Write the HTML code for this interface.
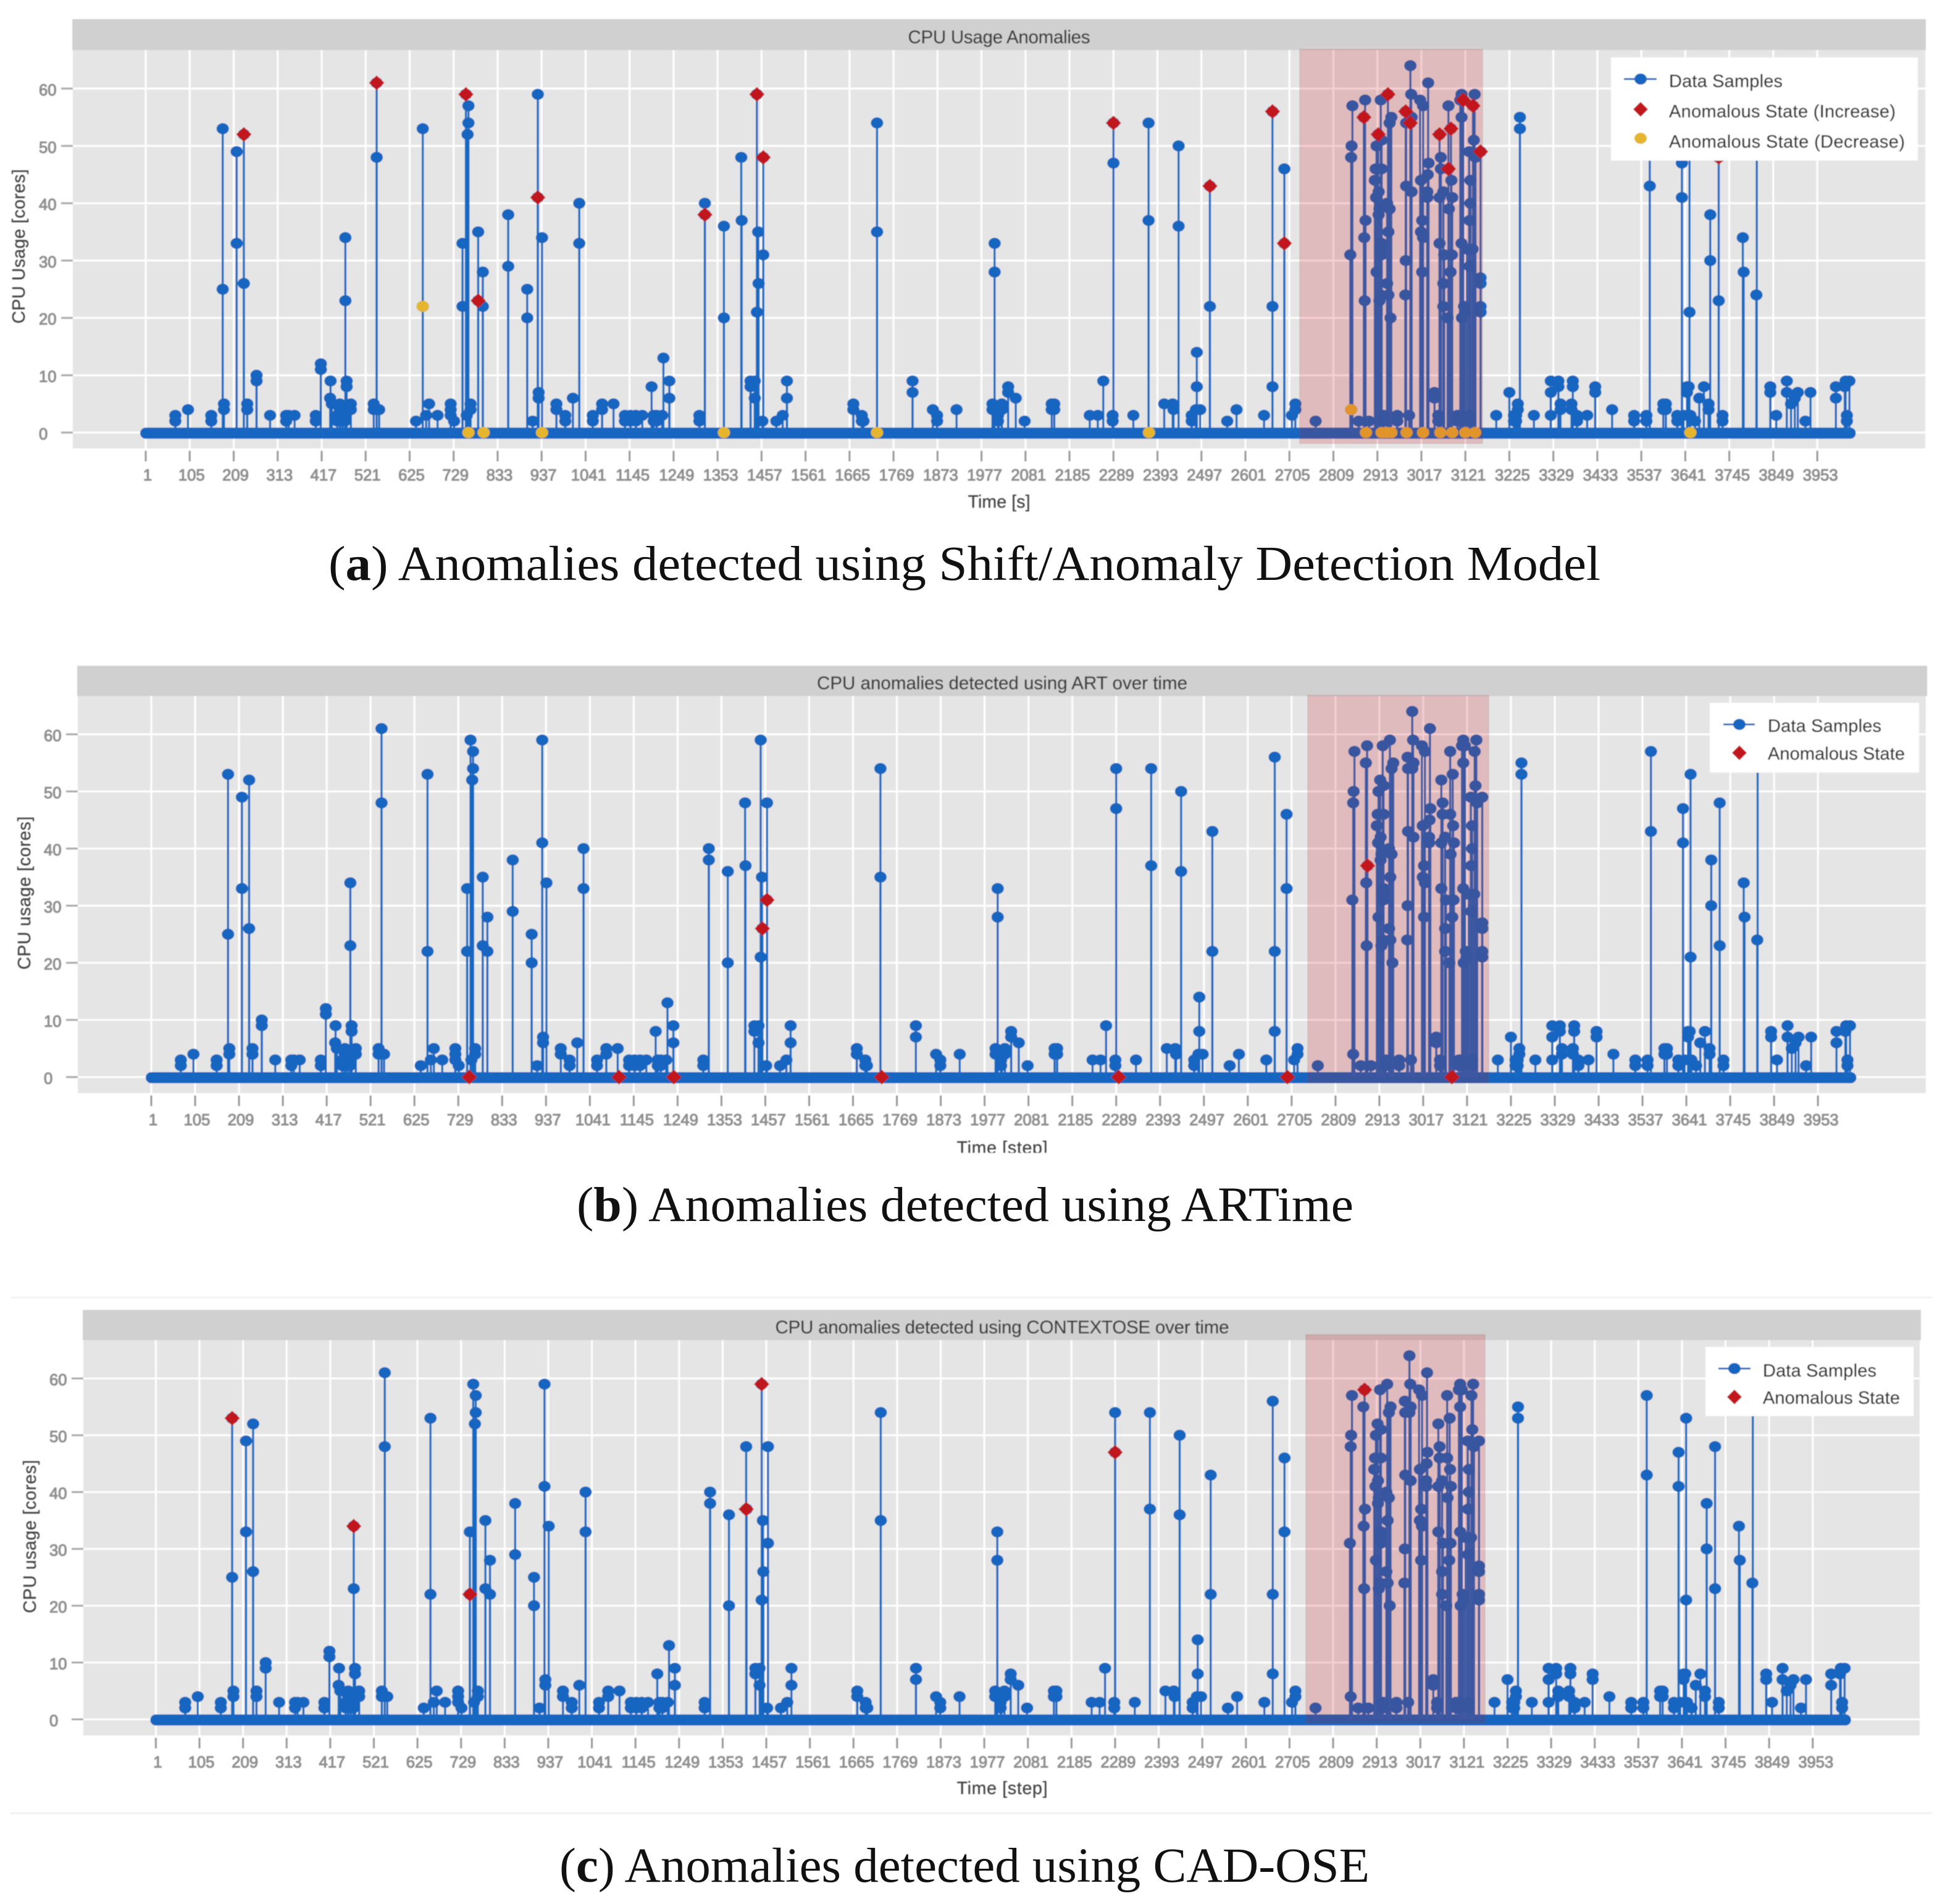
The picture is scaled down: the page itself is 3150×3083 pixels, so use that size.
<!DOCTYPE html>
<html lang="en">
<head>
<meta charset="utf-8">
<title>CPU usage anomalies</title>
<style>
html,body{margin:0;padding:0;background:#fff;width:3150px;height:3083px;overflow:hidden}
svg{display:block}
.sans{font-family:"Liberation Sans",sans-serif}
.serif{font-family:"Liberation Serif",serif}
.title{font-size:29.5px;fill:#3c3c3c;stroke:#3c3c3c;stroke-width:.35px;text-anchor:middle}
.axis-title{font-size:28.5px;fill:#444;stroke:#444;stroke-width:.3px;text-anchor:middle}
.tick-label{font-size:25.6px;fill:#8f8f8f;stroke:#8f8f8f;stroke-width:1.1px}
.legend-text{font-size:29px;fill:#2e2e2e;stroke:#2e2e2e;stroke-width:.3px}
.caption{font-size:79px;fill:#111}
</style>
</head>
<body>
<svg id="figure" xmlns="http://www.w3.org/2000/svg" width="3150" height="3083" viewBox="0 0 3150 3083">
  <defs>
    <filter id="soft" filterUnits="userSpaceOnUse" x="0" y="0" width="3150" height="3083"><feGaussianBlur stdDeviation="0.9"/></filter>
  </defs>
  <rect width="3150" height="3083" fill="#fff"/>

  <g id="panel-a" filter="url(#soft)" class="sans">
    <rect x="117" y="31" width="3002" height="50" fill="#d0d0d0"/>
    <rect x="118" y="81" width="3000" height="645" fill="#e5e5e5"/>
    <g class="layer-grid"></g><g class="layer-ticks"></g><g class="layer-marks"></g>
    <rect x="2105" y="80" width="296" height="638" fill="rgb(205,20,30)" fill-opacity=".2" stroke="#7a4a4a" stroke-opacity=".25"/>
    <text class="title" x="1618" y="70" textLength="295">CPU Usage Anomalies</text>
    <text class="axis-title" x="1618" y="822" textLength="101">Time [s]</text>
    <text class="axis-title" transform="translate(40,399) rotate(-90)" textLength="250">CPU Usage [cores]</text>
    <g>
      <rect x="2609" y="93" width="497" height="167" fill="#fff"/>
      <line x1="2630" x2="2683" y1="128" y2="128" stroke="#1b6bc2" stroke-width="3"/>
      <ellipse cx="2657" cy="128" rx="10" ry="9" fill="#1565c0"/>
      <polygon points="2657,165 2669,177 2657,189 2645,177" fill="#c0141a"/>
      <ellipse cx="2657" cy="224" rx="10" ry="9" fill="#e6b52e"/>
      <text class="legend-text" x="2703" y="141" textLength="184">Data Samples</text>
      <text class="legend-text" x="2703" y="190" textLength="367">Anomalous State (Increase)</text>
      <text class="legend-text" x="2703" y="239" textLength="382">Anomalous State (Decrease)</text>
    </g>
  </g>

  <g id="panel-b" filter="url(#soft)" class="sans">
    <rect x="125" y="1078" width="2996" height="49" fill="#d0d0d0"/>
    <rect x="126" y="1127" width="2993" height="643" fill="#e5e5e5"/>
    <g class="layer-grid"></g><g class="layer-ticks"></g><g class="layer-marks"></g>
    <rect x="2118" y="1126" width="293" height="627" fill="rgb(205,20,30)" fill-opacity=".2" stroke="#7a4a4a" stroke-opacity=".25"/>
    <text class="title" x="1623" y="1116" textLength="600">CPU anomalies detected using ART over time</text>
    <text class="axis-title" x="1623" y="1868" textLength="147">Time [step]</text>
    <text class="axis-title" transform="translate(49,1446) rotate(-90)" textLength="248">CPU usage [cores]</text>
    <g>
      <rect x="2769" y="1138" width="339" height="113" fill="#fff"/>
      <line x1="2791" x2="2842" y1="1173" y2="1173" stroke="#1b6bc2" stroke-width="3"/>
      <ellipse cx="2817" cy="1173" rx="10" ry="9" fill="#1565c0"/>
      <polygon points="2817,1207 2829,1219 2817,1231 2805,1219" fill="#c0141a"/>
      <text class="legend-text" x="2863" y="1185" textLength="184">Data Samples</text>
      <text class="legend-text" x="2863" y="1230" textLength="222">Anomalous State</text>
    </g>
    <rect x="1500" y="1867" width="300" height="12" fill="#fff"/>
  </g>

  <g id="panel-c" filter="url(#soft)" class="sans">
    <rect x="134" y="2121" width="2977" height="49" fill="#d0d0d0"/>
    <rect x="135" y="2170" width="2974" height="640" fill="#e5e5e5"/>
    <g class="layer-grid"></g><g class="layer-ticks"></g><g class="layer-marks"></g>
    <rect x="2115" y="2161" width="290" height="629" fill="rgb(205,20,30)" fill-opacity=".2" stroke="#7a4a4a" stroke-opacity=".25"/>
    <text class="title" x="1623" y="2159" textLength="735">CPU anomalies detected using CONTEXTOSE over time</text>
    <text class="axis-title" x="1623" y="2905" textLength="147">Time [step]</text>
    <text class="axis-title" transform="translate(58,2488) rotate(-90)" textLength="248">CPU usage [cores]</text>
    <g>
      <rect x="2762" y="2181" width="337" height="112" fill="#fff"/>
      <line x1="2783" x2="2835" y1="2216" y2="2216" stroke="#1b6bc2" stroke-width="3"/>
      <ellipse cx="2809" cy="2216" rx="10" ry="9" fill="#1565c0"/>
      <polygon points="2809,2250 2821,2262 2809,2274 2797,2262" fill="#c0141a"/>
      <text class="legend-text" x="2855" y="2229" textLength="184">Data Samples</text>
      <text class="legend-text" x="2855" y="2273" textLength="222">Anomalous State</text>
    </g>
  </g>

  <line x1="17" x2="3129" y1="2101" y2="2101" stroke="#f4f4f4" stroke-width="3"/>
  <line x1="17" x2="3129" y1="2936" y2="2936" stroke="#f2f2f2" stroke-width="3"/>

  <text class="serif caption" x="532" y="939" textLength="2060" lengthAdjust="spacingAndGlyphs">(<tspan font-weight="bold">a</tspan>) Anomalies detected using Shift/Anomaly Detection Model</text>
  <text class="serif caption" x="934" y="1977" textLength="1258" lengthAdjust="spacingAndGlyphs">(<tspan font-weight="bold">b</tspan>) Anomalies detected using ARTime</text>
  <text class="serif caption" x="906" y="3047" textLength="1312" lengthAdjust="spacingAndGlyphs">(<tspan font-weight="bold">c</tspan>) Anomalies detected using CAD-OSE</text>
</svg>

<script>
const xTickLabels = [1,105,209,313,417,521,625,729,833,937,1041,1145,1249,1353,1457,1561,1665,1769,1873,1977,2081,2185,2289,2393,2497,2601,2705,2809,2913,3017,3121,3225,3329,3433,3537,3641,3745,3849,3953];
const yTickLabels = [0,10,20,30,40,50,60];
const firstStep = 1;
const lastStep = 4031;

const sampleSteps = [
71,71,101,156,156,183,183,186,186,216,216,233,233,241,241,263,263,295,333,333,339,353,403,403,415,415,437,438,441,
454,454,460,460,466,466,466,472,472,473,473,476,476,486,486,540,540,547,547,553,640,656,656,664,671,691,722,722,722,730,
750,750,758,760,762,764,764,769,769,787,787,798,798,858,858,903,903,916,928,928,930,930,938,972,972,993,993,1011,1026,1026,
1058,1058,1080,1080,1107,1134,1134,1147,1147,1160,1160,1175,1197,1202,1202,1209,1209,1222,1225,1239,1239,1310,1310,1323,1323,1368,1368,1409,1410,
1431,1431,1441,1441,1446,1446,1449,1450,1459,1461,1461,1492,1507,1517,1517,1674,1674,1694,1694,1698,1730,1730,1814,1814,1862,1872,1872,1918,
2003,2003,2008,2008,2016,2016,2018,2025,2025,2040,2040,2058,2079,2143,2143,2149,2149,2233,2252,2265,2287,2287,2289,2289,2336,2372,2372,2409,2429,2431,2443,2443,
2474,2474,2484,2486,2486,2494,2517,2517,2558,2580,2645,2665,2665,2665,2693,2693,2711,2719,2719,2767,
2849,2851,2851,2852,2854,2869,2881,2882,2883,2884,2885,2893,2907,2909,2910,2911,2911,2915,2916,2916,2918,2918,2921,2921,2921,2923,2923,2923,2923,2928,2928,
2936,2936,2938,2939,2939,2942,2942,2944,2946,2960,2960,2979,2980,2980,2981,2981,2988,2991,2991,2993,2994,2994,
3014,3016,3016,3019,3019,3021,3021,3031,3031,3032,3033,3034,3048,3048,3057,3057,3060,3060,3060,3063,3063,3069,3069,3069,3071,
3079,3081,3081,3082,3086,3087,3088,3089,3090,3102,3102,3108,3108,3109,3112,3112,3112,3113,3116,3118,3120,3125,3130,3131,3131,3133,3133,3133,3133,3138,3139,3141,3143,3145,3157,3157,3157,3157,3157,
3194,3225,3236,3236,3241,3241,3245,3245,3250,3250,3283,3323,3323,3323,3341,3341,3346,3346,3372,3372,3375,3375,3385,3385,3409,3428,3428,3468,3520,3520,3549,3549,3557,3557,3589,3589,3595,3595,
3622,3622,3633,3633,3637,3645,3645,3649,3651,3651,3653,3664,3674,3685,3696,3696,3700,3700,3720,3720,3729,3729,3777,3779,3809,3810,3842,3842,3856,3881,3881,3891,3900,3907,3925,3937,3997,3997,4018,4020,4023,4023,4029
];
const sampleValues = [
3,2,4,3,2,53,25,5,4,49,33,52,26,5,4,10,9,3,3,2,3,3,3,2,12,11,6,9,5,
3,2,5,4,4,3,2,3,2,34,23,9,8,5,4,5,4,61,48,4,2,53,22,3,5,3,5,4,3,2,
33,22,59,3,52,54,57,5,4,35,23,28,22,38,29,25,20,2,59,41,7,6,34,5,4,3,2,6,40,33,
3,2,5,4,5,3,2,3,2,3,2,3,8,3,2,3,2,3,13,9,6,3,2,40,38,36,20,48,37,
9,8,9,6,59,21,35,26,2,48,31,2,3,9,6,5,4,3,2,2,54,35,9,7,4,3,2,4,
5,4,33,28,3,2,4,5,4,8,7,6,2,5,4,5,4,3,3,9,3,2,54,47,3,54,37,5,5,4,50,36,
3,2,4,14,8,4,43,22,2,4,3,56,22,8,46,33,3,5,4,2,
31,48,4,50,57,2,55,34,23,58,37,2,44,46,41,50,28,52,42,38,39,23,58,32,24,51,46,33,31,3,2,
40,26,59,35,24,54,39,20,55,3,2,24,56,30,54,43,3,64,54,59,55,42,
58,44,35,37,28,57,34,42,41,45,61,47,7,6,3,2,52,41,33,48,46,42,26,22,31,
20,57,46,39,28,53,44,31,41,3,2,3,2,58,59,55,33,20,58,22,21,32,49,37,29,44,40,3,2,32,57,51,59,48,49,27,26,22,21,
3,7,3,2,3,2,5,4,55,53,3,9,7,3,9,8,5,4,5,4,9,8,3,2,3,8,7,4,3,2,3,2,57,43,5,4,5,4,
3,2,47,41,3,8,7,8,53,21,3,2,6,8,5,4,38,30,48,23,3,2,34,28,24,58,8,7,3,9,7,5,6,7,2,7,8,6,8,9,3,2,9
];

const increaseStepsA = [233,547,758,787,928,1323,1446,1461,2289,2517,2665,2693,2881,2915,2938,2980,2991,3060,3081,3087,3116,3139,3157,3720];
const increaseValuesA = [52,61,59,23,41,38,59,48,54,43,56,33,55,52,59,56,54,52,46,53,58,57,49,48];
const decreaseStepsA = [656,764,800,938,1368,1730,2373,2851,2886,2923,2935,2946,2982,3021,3062,3090,3121,3144,3653];
const decreaseValuesA = [22,0,0,0,0,0,0,4,0,0,0,0,0,0,0,0,0,0,0];

const anomalyStepsB = [755,1110,1240,1450,1461,1733,2295,2695,2885,3085];
const anomalyValuesB = [0,0,0,26,31,0,0,0,37,0];

const anomalyStepsC = [183,473,750,1409,1446,2289,2884];
const anomalyValuesC = [53,34,22,37,59,47,58];

const NS = 'http://www.w3.org/2000/svg';
function make(tag, attrs, parent) {
  const el = document.createElementNS(NS, tag);
  for (const k in attrs) el.setAttribute(k, attrs[k]);
  parent.appendChild(el);
  return el;
}

function drawPanel(cfg) {
  const root = document.getElementById(cfg.id);
  const gridLayer = root.querySelector('.layer-grid');
  const tickLayer = root.querySelector('.layer-ticks');
  const markLayer = root.querySelector('.layer-marks');
  const xScale = s => cfg.x1 + (s - 1) * cfg.k;
  const yScale = v => cfg.y0 - v * cfg.u;

  xTickLabels.forEach(label => {
    const x = xScale(label);
    const grid = make('line', {x1:x, x2:x, y1:cfg.top, y2:cfg.bottom, stroke:'#fff', 'stroke-width':3}, gridLayer);
    
    
    const tick = make('line', {x1:x, x2:x, y1:cfg.bottom + 4, y2:cfg.bottom + 21, stroke:'#999', 'stroke-width':3}, tickLayer);
    
    
    const offset = String(label).length > 3 ? 5 : 3;
    const text = make('text', {x:x + offset, y:cfg.bottom + 52, 'text-anchor':'middle', class:'tick-label'}, tickLayer);
    text.textContent = label;
    
    
  });

  yTickLabels.forEach(label => {
    const y = yScale(label);
    const grid = make('line', {x1:cfg.left, x2:cfg.right, y1:y, y2:y, stroke:'#fff', 'stroke-width':3}, gridLayer);
    
    
    const tick = make('line', {x1:cfg.left - 19, x2:cfg.left, y1:y, y2:y, stroke:'#aaa', 'stroke-width':3}, tickLayer);
    
    
    const text = make('text', {x:cfg.left - 55, y:y + 11, class:'tick-label'}, tickLayer);
    text.textContent = label;
    
    
  });

  const base = make('line', {x1:xScale(firstStep), x2:xScale(lastStep), y1:yScale(0) + 1, y2:yScale(0) + 1, stroke:'#1565c0', 'stroke-width':18, 'stroke-linecap':'round'}, markLayer);
  
  

  sampleSteps.forEach((s, i) => {
    const stem = make('line', {x1:xScale(s), x2:xScale(s), y1:yScale(0), y2:yScale(sampleValues[i]), stroke:'#1869c2', 'stroke-width':3.4}, markLayer);
    
    
  });
  sampleSteps.forEach((s, i) => {
    const dot = make('ellipse', {cx:xScale(s), cy:yScale(sampleValues[i]), rx:10, ry:9, fill:'#1565c0'}, markLayer);
    
    
  });

  cfg.increaseSteps.forEach((s, i) => {
    const x = xScale(s), y = yScale(cfg.increaseValues[i]);
    const d = make('polygon', {points:[x,y-12,x+12.5,y,x,y+12,x-12.5,y].join(' '), fill:'#c0141a'}, markLayer);
    
    
  });
  cfg.decreaseSteps.forEach((s, i) => {
    const e = make('ellipse', {cx:xScale(s), cy:yScale(cfg.decreaseValues[i]), rx:10, ry:9, fill:'#e6b52e'}, markLayer);
    
    
  });
}

drawPanel({id:'panel-a', x1:236, k:0.685, y0:700.4, u:9.283, left:118, right:3118, top:81, bottom:726,
  increaseSteps:increaseStepsA, increaseValues:increaseValuesA, decreaseSteps:decreaseStepsA, decreaseValues:decreaseValuesA});
drawPanel({id:'panel-b', x1:245, k:0.683, y0:1744, u:9.25, left:126, right:3119, top:1127, bottom:1770,
  increaseSteps:anomalyStepsB, increaseValues:anomalyValuesB, decreaseSteps:[], decreaseValues:[]});
drawPanel({id:'panel-c', x1:252.4, k:0.679, y0:2784, u:9.2, left:135, right:3109, top:2170, bottom:2810,
  increaseSteps:anomalyStepsC, increaseValues:anomalyValuesC, decreaseSteps:[], decreaseValues:[]});
</script>
</body>
</html>
